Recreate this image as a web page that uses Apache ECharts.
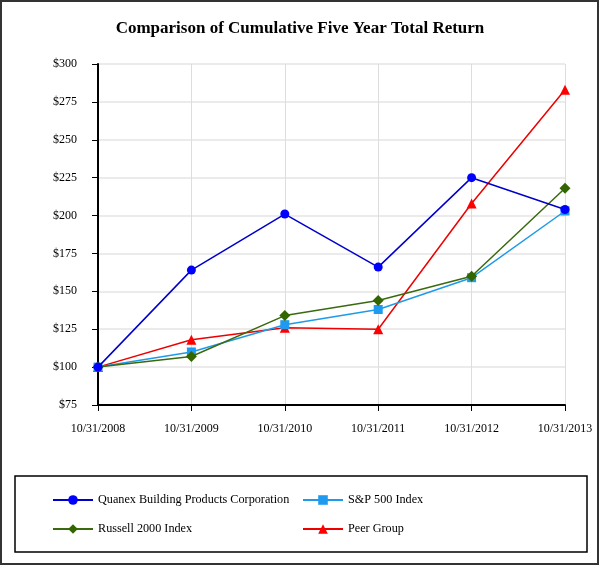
<!DOCTYPE html>
<html><head><meta charset="utf-8">
<script src="https://cdn.jsdelivr.net/npm/echarts@6/dist/echarts.min.js"></script>
<style>html,body{margin:0;padding:0;background:#fff}#c{width:600px;height:566px}</style>
</head><body><div id="c"></div>
<script>
const categories = ['10/31/2008','10/31/2009','10/31/2010','10/31/2011','10/31/2012','10/31/2013'];
const quanex = [100, 164, 201, 166, 225, 204];
const sp500 = [100, 110, 128, 138, 159, 203];
const russell = [100, 107, 134, 144, 160, 218];
const peer = [100, 118, 126, 125, 208, 283];
const seriesNames = ['Quanex Building Products Corporation','S&P 500 Index','Russell 2000 Index','Peer Group'];

const font = 'Liberation Serif';
const chart = echarts.init(document.getElementById('c'));
function leg(name, left, top){
  return {data:[name], left:left, top:top, orient:'horizontal', itemWidth:40, itemHeight:12, itemGap:10,
    textStyle:{fontFamily:font, fontSize:12.2, color:'#000'}, selectedMode:false, padding:0};
}
chart.setOption({
  animation:false,
  title:{text:'Comparison of Cumulative Five Year Total Return', left:'center', top:15,
    textStyle:{fontFamily:font, fontSize:17, fontWeight:'bold', color:'#000'}},
  graphic:[
    {type:'rect', shape:{x:1, y:1, width:597, height:563}, style:{fill:'none', stroke:'#333', lineWidth:2}},
    {type:'rect', shape:{x:15, y:476, width:572, height:76}, style:{fill:'none', stroke:'#000', lineWidth:1.5}}
  ],
  legend:[leg(seriesNames[0],52,494), leg(seriesNames[1],302,494), leg(seriesNames[2],52,523), leg(seriesNames[3],302,523)],
  grid:{left:98, right:35, top:64, bottom:161, containLabel:false},
  xAxis:{type:'category', data:categories, boundaryGap:false,
    axisLine:{lineStyle:{color:'#000', width:2}},
    axisTick:{show:true, length:6, lineStyle:{color:'#000'}, alignWithLabel:true},
    axisLabel:{fontFamily:font, fontSize:12, color:'#000', margin:18, interval:0},
    splitLine:{show:true, lineStyle:{color:'#ddd'}}},
  yAxis:{type:'value', min:75, max:300, interval:25,
    axisLine:{show:true, lineStyle:{color:'#000', width:2}},
    axisTick:{show:true, length:6, lineStyle:{color:'#000'}},
    axisLabel:{fontFamily:font, fontSize:12, color:'#000', margin:21, formatter:v=>'$'+v},
    splitLine:{show:true, lineStyle:{color:'#e4e4e4', width:1.5}}},
  series:[
    {name:seriesNames[0], type:'line', data:quanex, symbol:'circle', symbolSize:9,
      lineStyle:{color:'#0000cc', width:1.5}, itemStyle:{color:'#0000ff'}, z:5},
    {name:seriesNames[1], type:'line', data:sp500, symbol:'rect', symbolSize:9,
      lineStyle:{color:'#1e9be8', width:1.5}, itemStyle:{color:'#1e9bf0'}, z:3},
    {name:seriesNames[2], type:'line', data:russell, symbol:'diamond', symbolSize:11,
      lineStyle:{color:'#3a6a10', width:1.5}, itemStyle:{color:'#336600'}, z:4},
    {name:seriesNames[3], type:'line', data:peer, symbol:'triangle', symbolSize:10,
      lineStyle:{color:'#ee0000', width:1.5}, itemStyle:{color:'#ff0000'}, z:2}
  ]
});
</script></body></html>
